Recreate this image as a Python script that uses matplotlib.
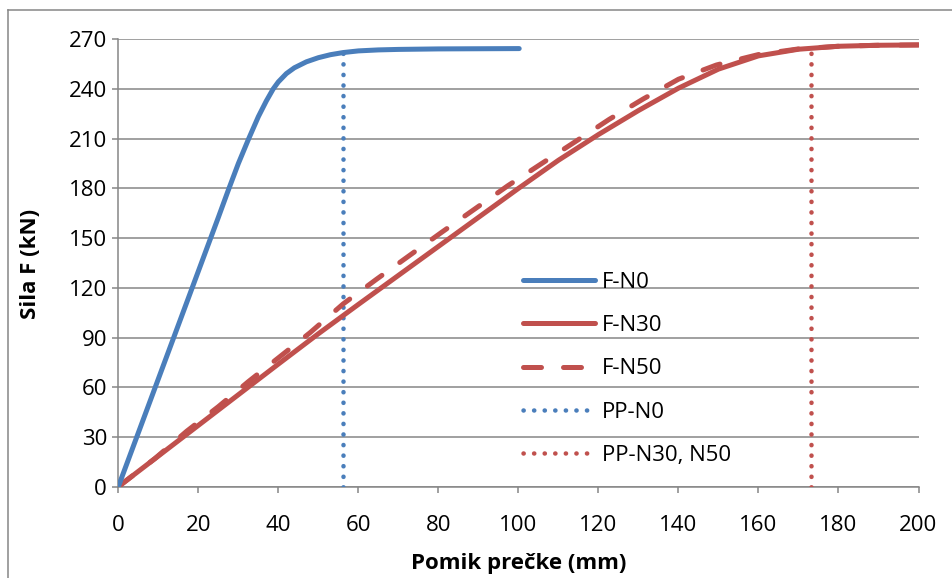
import matplotlib
matplotlib.use("Agg")
import matplotlib.pyplot as plt
from matplotlib.lines import Line2D

# ---- data ----
x_n0 = [0, 10, 20, 25, 27.5, 30, 32.5, 35, 37, 38.7, 40, 42, 44, 47, 50, 53, 56.2, 60, 65, 70, 80, 100.2]
f_n0 = [0, 65, 130, 162.5, 179, 195, 209.5, 223.3, 232.8, 240, 244.3, 249.3, 252.8, 256.4,
        258.9, 260.7, 262.0, 263.0, 263.6, 263.9, 264.2, 264.4]

x_n30 = [0, 10, 20, 30, 40, 50, 60, 70, 80, 90, 100, 110, 120, 130, 140, 150, 160, 170, 180, 190, 200]
f_n30 = [0, 18.5, 37, 55.5, 74, 92.3, 110, 127.5, 145, 162.5, 180, 197, 212.5, 227, 240.5, 252,
         260, 264, 265.8, 266.4, 266.6]

x_n50 = [0, 9.2, 17.1, 25, 32.5, 40.4, 47.9, 56.2, 64.6, 72.7, 80.8, 89.1, 97.4, 105.8,
         114.2, 122.7, 131.2, 140, 149.5, 160, 170, 180, 190, 200]
f_n50 = [0, 17.1, 33.5, 48.3, 63.4, 78.5, 92.9, 110.3, 125.3, 139.4, 153.5, 167.6, 181.7, 195,
         208.2, 221.7, 234, 245.9, 254.5, 260.8, 264.2, 265.8, 266.4, 266.6]

pp_n0_x = [56.2, 56.2]
pp_n0_y = [0, 265]
pp_n30_x = [173.1, 173.1]
pp_n30_y = [0, 264.5]

labels = ["F-N0", "F-N30", "F-N50", "PP-N0", "PP-N30, N50"]
xticks = list(range(0, 201, 20))
yticks = list(range(0, 271, 30))

BLUE = "#4A7EBB"
RED = "#C0504D"
GRID = "#868686"

plt.rcParams['font.family'] = ['Open Sans', 'DejaVu Sans']

W, H, DPI = 953, 578, 100
fig = plt.figure(figsize=(W / DPI, H / DPI), dpi=DPI)
ax = fig.add_axes([118.3 / W, 1 - 486.7 / H, (918.5 - 118.3) / W, (486.7 - 39.3) / H])

lw = 3.6
dot = (0, (0.05, 2.3))
ax.plot(x_n0, f_n0, color=BLUE, lw=lw, solid_capstyle='round', solid_joinstyle='round',
        label=labels[0], zorder=5)
ax.plot(x_n30, f_n30, color=RED, lw=lw, solid_capstyle='round', solid_joinstyle='round',
        label=labels[1], zorder=4)
ax.plot(x_n50, f_n50, color=RED, lw=lw, linestyle=(0, (3.6, 4.4)), dash_capstyle='round',
        label=labels[2], zorder=4)
ax.plot(pp_n0_x, pp_n0_y, color=BLUE, lw=lw * 0.9, linestyle=dot, dash_capstyle='round',
        label=labels[3], zorder=3)
ax.plot(pp_n30_x, pp_n30_y, color=RED, lw=lw * 0.9, linestyle=dot, dash_capstyle='round',
        label=labels[4], zorder=3)

ax.set_xlim(0, 200)
ax.set_ylim(0, 270)
ax.set_xticks(xticks)
ax.set_yticks(yticks)
ax.tick_params(axis='both', direction='out', length=4.5, width=1.1, color=GRID,
               labelsize=16, labelcolor='black')
ax.tick_params(axis='y', pad=3.6)
ax.tick_params(axis='x', pad=16)
ax.grid(axis='y', color=GRID, lw=1.1)
ax.set_axisbelow(True)
for s in ['top', 'right']:
    ax.spines[s].set_visible(False)
for s in ['left', 'bottom']:
    ax.spines[s].set_color(GRID)
    ax.spines[s].set_linewidth(1.1)

ax.set_xlabel("Pomik prečke (mm)", fontsize=16, fontweight='bold', va='center')
ax.set_ylabel("Sila F (kN)", fontsize=16, fontweight='bold', va='center')
ax.xaxis.set_label_coords(0.5, (486.7 - 563) / 447.4)
ax.yaxis.set_label_coords((31 - 118.3) / 800.2, (486.7 - 264) / 447.4)

leg = ax.legend(loc='upper left', bbox_to_anchor=(523 / W, 1 - 272 / H),
                bbox_transform=fig.transFigure, frameon=False, fontsize=16,
                handlelength=3.25, handletextpad=0.3, labelspacing=1.0,
                borderpad=0, borderaxespad=0)

# chart border (top and left visible)
fig.add_artist(Line2D([8 / W, 1], [1 - 10 / H, 1 - 10 / H], transform=fig.transFigure,
                      color=GRID, lw=1.1))
fig.add_artist(Line2D([8 / W, 8 / W], [0, 1 - 10 / H], transform=fig.transFigure,
                      color=GRID, lw=1.1))

fig.savefig("out.png", dpi=DPI, facecolor='white')
